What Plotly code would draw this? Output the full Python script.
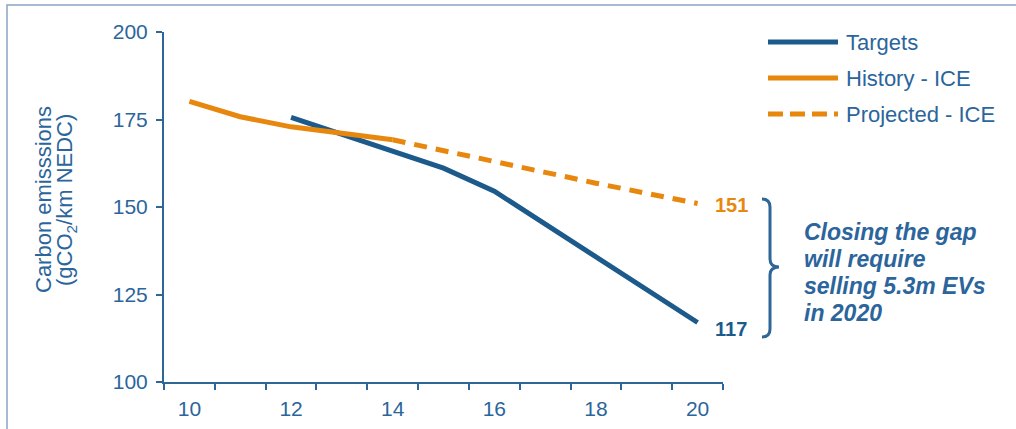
import plotly.graph_objects as go

# ---------------- data ----------------
history_years = [10, 11, 12, 13, 14]
history_ice = [180.2, 175.8, 172.9, 171.0, 169.2]

target_years = [12, 13, 14, 15, 16, 17, 18, 19, 20]
targets = [175.6, 170.8, 166.0, 161.1, 154.5, 145.2, 135.8, 126.4, 117.0]

projected_years = [14, 15, 16, 17, 18, 19, 20]
projected_ice = [169.2, 166.0, 162.9, 159.9, 156.8, 153.9, 151.0]

x_tick_vals = [10, 12, 14, 16, 18, 20]
x_tick_text = ["10", "12", "14", "16", "18", "20"]
y_tick_vals = [100, 125, 150, 175, 200]

series_names = ["Targets", "History - ICE", "Projected - ICE"]
callout_lines = ["Closing the gap", "will require", "selling 5.3m EVs", "in 2020"]
y_title_lines = ["Carbon emisssions", "(gCO<sub>2</sub>/km NEDC)"]

# ---------------- styling ----------------
W, H = 1016, 429
ML, MR, MT, MB = 164, 293, 32, 47
PW, PH = W - ML - MR, H - MT - MB

BLUE = "#1C5A8C"
TEXT = "#2B659B"
ORANGE = "#E8870E"
AXIS = "#2F6698"
FRAME = "#8AA4C2"
FONT = "Arial, Liberation Sans, sans-serif"


def px(x):
    return (x - ML) / PW


def py(y):
    return (H - MB - y) / PH


fig = go.Figure()
fig.add_trace(go.Scatter(x=target_years, y=targets, mode="lines", name=series_names[0],
                         line=dict(color=BLUE, width=5), showlegend=False))
fig.add_trace(go.Scatter(x=history_years, y=history_ice, mode="lines", name=series_names[1],
                         line=dict(color=ORANGE, width=5), showlegend=False))
fig.add_trace(go.Scatter(x=projected_years, y=projected_ice, mode="lines", name=series_names[2],
                         line=dict(color=ORANGE, width=5, dash="13px,9px"), showlegend=False))

shapes = []
annotations = []

# outer frame (left & top visible)
shapes.append(dict(type="rect", xref="paper", yref="paper",
                   x0=px(7), x1=px(W + 20), y0=py(H + 20), y1=py(5),
                   line=dict(color=FRAME, width=1.5), layer="below"))

# manual legend
leg_y = [42, 78, 114]
leg_colors = [BLUE, ORANGE, ORANGE]
leg_dash = ["solid", "solid", "15px,7px"]
for i, name in enumerate(series_names):
    shapes.append(dict(type="line", xref="paper", yref="paper",
                       x0=px(768), x1=px(838), y0=py(leg_y[i]), y1=py(leg_y[i]),
                       line=dict(color=leg_colors[i], width=5, dash=leg_dash[i])))
    annotations.append(dict(xref="paper", yref="paper", x=px(844), y=py(leg_y[i]),
                            text=name, showarrow=False, xanchor="left", yanchor="middle",
                            font=dict(family=FONT, size=22, color=TEXT)))

# end labels
annotations.append(dict(x=projected_years[-1], y=projected_ice[-1], text=f"<b>{projected_ice[-1]:.0f}</b>",
                        showarrow=False, xanchor="left", yanchor="middle", xshift=15, yshift=-1,
                        font=dict(family=FONT, size=20, color=ORANGE)))
annotations.append(dict(x=target_years[-1], y=targets[-1], text=f"<b>{targets[-1]:.0f}</b>",
                        showarrow=False, xanchor="left", yanchor="middle", xshift=15, yshift=-6,
                        font=dict(family=FONT, size=20, color=BLUE)))

# brace
pts = [(762, 199), (770, 199), (770, 207), (770, 259), (770, 267), (779, 267),
       (770, 267), (770, 275), (770, 329), (770, 337), (762, 337)]
P = [(px(a), py(b)) for a, b in pts]
path = (f"M{P[0][0]},{P[0][1]} Q{P[1][0]},{P[1][1]} {P[2][0]},{P[2][1]} "
        f"L{P[3][0]},{P[3][1]} Q{P[4][0]},{P[4][1]} {P[5][0]},{P[5][1]} "
        f"Q{P[6][0]},{P[6][1]} {P[7][0]},{P[7][1]} "
        f"L{P[8][0]},{P[8][1]} Q{P[9][0]},{P[9][1]} {P[10][0]},{P[10][1]}")
shapes.append(dict(type="path", xref="paper", yref="paper", path=path,
                   line=dict(color=AXIS, width=3)))

# callout text
call_y = [232, 259, 286, 313]
for t, yy in zip(callout_lines, call_y):
    annotations.append(dict(xref="paper", yref="paper", x=px(802), y=py(yy),
                            text=f"<b><i>{t}</i></b>", showarrow=False,
                            xanchor="left", yanchor="middle",
                            font=dict(family=FONT, size=23, color=TEXT)))

# y axis title (two rotated lines)
for t, xx in zip(y_title_lines, [43, 66]):
    annotations.append(dict(xref="paper", yref="paper", x=px(xx), y=py(200),
                            text=t, showarrow=False, textangle=-90,
                            xanchor="center", yanchor="middle",
                            font=dict(family=FONT, size=22, color=TEXT)))

fig.update_layout(
    width=W, height=H, autosize=False,
    margin=dict(l=ML, r=MR, t=MT, b=MB, pad=0),
    paper_bgcolor="white", plot_bgcolor="white",
    shapes=shapes, annotations=annotations,
    showlegend=False,
    font=dict(family=FONT, color=TEXT),
    xaxis=dict(range=[9.5, 20.5], tickvals=x_tick_vals, ticktext=x_tick_text,
               ticks="", showgrid=False, zeroline=False, automargin=False,
               showline=True, linecolor=AXIS, linewidth=2,
               tickfont=dict(family=FONT, size=21, color=TEXT),
               ticklabelstandoff=7,
               minor=dict(tickvals=[v + 0.5 for v in range(9, 21)], ticks="outside",
                          ticklen=6, tickwidth=2, tickcolor=AXIS, showgrid=False)),
    yaxis=dict(range=[100, 200], tickvals=y_tick_vals, ticks="outside", ticklen=6,
               tickwidth=2, tickcolor=AXIS, showgrid=False, zeroline=False, automargin=False,
               showline=True, linecolor=AXIS, linewidth=2,
               tickfont=dict(family=FONT, size=21, color=TEXT),
               ticklabelstandoff=4),
)

fig.write_html(
    "out.html",
    config={"displayModeBar": False, "responsive": False},
    post_script=("document.documentElement.style.margin='0';"
                 "document.body.style.margin='0';"
                 "document.documentElement.style.overflow='hidden';"
                 "document.body.style.overflow='hidden';"),
)
